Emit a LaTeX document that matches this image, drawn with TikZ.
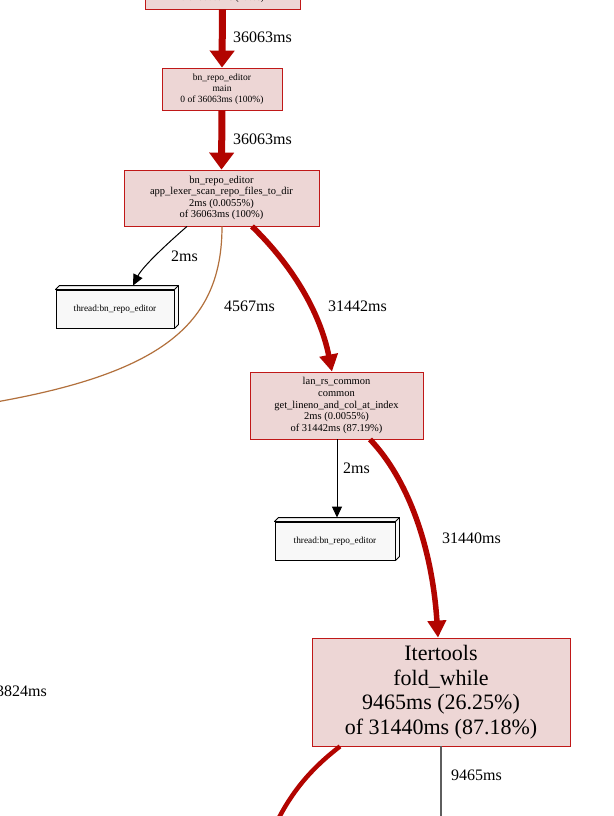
\documentclass[tikz,border=0pt]{standalone}
\usepackage{fontspec}
\setmainfont{Liberation Serif}
\usetikzlibrary{arrows.meta}
\definecolor{boxfill}{HTML}{EDD6D5}
\definecolor{boxline}{HTML}{C01818}
\definecolor{hot}{HTML}{B20400}
\definecolor{warm}{HTML}{B2703C}
\definecolor{grayedge}{HTML}{5E5E5E}
\definecolor{threadfill}{HTML}{F8F8F8}
\tikzset{
  fnbox/.style={draw=boxline, fill=boxfill, rectangle, inner sep=0pt, align=center, line width=0.8pt},
  smallfn/.style={fnbox, font=\fontsize{9.5}{11}\selectfont},
  midfn/.style={fnbox, font=\fontsize{10.5}{11.6}\selectfont},
  bigfn/.style={fnbox, font=\fontsize{22}{24.5}\selectfont},
  thread/.style={draw=black, fill=threadfill, rectangle, inner sep=0pt, line width=0.9pt,
    minimum height=38pt, font=\fontsize{9.3}{11}\selectfont},
  hotedge/.style={draw=hot, line width=5.5pt, -{Triangle[width=18pt,length=17pt]}},
  topedge/.style={draw=hot, line width=7pt, -{Triangle[width=24pt,length=17pt]}},
  thinedge/.style={draw=black, line width=1pt, -{Triangle[width=10pt,length=11pt]}},
  elabel/.style={font=\fontsize{16}{18}\selectfont, inner sep=0pt, anchor=west},
}
\begin{document}
\begin{tikzpicture}[x=1pt, y=-1pt]
\useasboundingbox (0,0) rectangle (613,816);
\fill[white] (0,0) rectangle (613,816);

% nodes
\node[smallfn, minimum width=155pt, minimum height=42pt] (top) at (222.5,-12) {};
\node[font=\fontsize{9.5}{11}\selectfont, inner sep=0pt] (toptext) at (222.5,-1.5) {0 of 36063ms (100\%)};
\node[smallfn, minimum width=120pt, minimum height=42pt] (main) at (222,89)
  {bn\_repo\_editor\\main\\0 of 36063ms (100\%)};
\node[midfn, minimum width=195pt, minimum height=56pt] (app) at (221.5,198)
  {bn\_repo\_editor\\app\_lexer\_scan\_repo\_files\_to\_dir\\2ms (0.0055\%)\\of 36063ms (100\%)};
\node[thread, minimum width=118pt] (t1) at (115,309) {thread:bn\_repo\_editor};
\node[midfn, minimum width=173pt, minimum height=67pt] (lan) at (336.5,405.5)
  {lan\_rs\_common\\common\\get\_lineno\_and\_col\_at\_index\\2ms (0.0055\%)\\of 31442ms (87.19\%)};
\node[thread, minimum width=120pt] (t2) at (335,541) {thread:bn\_repo\_editor};
\node[bigfn, minimum width=258pt, minimum height=108pt] (iter) at (441,692)
  {Itertools\\fold\_while\\9465ms (26.25\%)\\of 31440ms (87.18\%)};

% 3D sides of the thread boxes
\foreach \t in {t1,t2}{
  \draw[line width=0.9pt, fill=threadfill, line join=round]
    (\t.north west) -- ++(4,-4) -- ([shift={(4,-4)}]\t.north east)
    -- ([shift={(4,-4)}]\t.south east) -- (\t.south east) -- (\t.north east) -- cycle;
  \draw[line width=0.9pt] (\t.north east) -- ++(4,-4);
}

% off-page ends
\coordinate (offL) at (-4,402);
\coordinate (offB) at (272,832);
\coordinate (offG) at (441,832);

% edges
\draw[topedge] (top.south) -- (main.north);
\draw[topedge] (main.south) -- (app.north);
\draw[thinedge] ([xshift=-34.5pt]app.south) .. controls (168,243) and (143,266) .. ([shift={(18,-4)}]t1.north);
\draw[warm, line width=1.2pt] ([xshift=0.5pt]app.south) .. controls (222,322) and (165,372) .. (offL);
\draw[hotedge] ([xshift=30.5pt]app.south) .. controls (292,265) and (320,312) .. ([xshift=-4.5pt]lan.north);
\draw[thinedge] ([xshift=0.5pt]lan.south) -- ([shift={(2,-4)}]t2.north);
\draw[hotedge] ([xshift=33.5pt]lan.south) .. controls (407,478) and (432,545) .. ([xshift=-3pt]iter.north);
\draw[hot, line width=4.5pt] ([xshift=-101pt]iter.south) .. controls (312,768) and (290,792) .. (offB);
\draw[grayedge, line width=1.5pt] (iter.south) -- (offG);

% edge labels
\node[elabel] (l1) at (233,37) {36063ms};
\node[elabel] (l2) at (233,139) {36063ms};
\node[elabel] (l3) at (171,256) {2ms};
\node[elabel] (l4) at (224,306) {4567ms};
\node[elabel] (l5) at (328,306) {31442ms};
\node[elabel] (l6) at (343,468) {2ms};
\node[elabel] (l7) at (442,538) {31440ms};
\node[elabel] (l8) at (451,775) {9465ms};
\node[elabel, anchor=east] (l9) at (47,691) {3824ms};
\end{tikzpicture}
\end{document}
